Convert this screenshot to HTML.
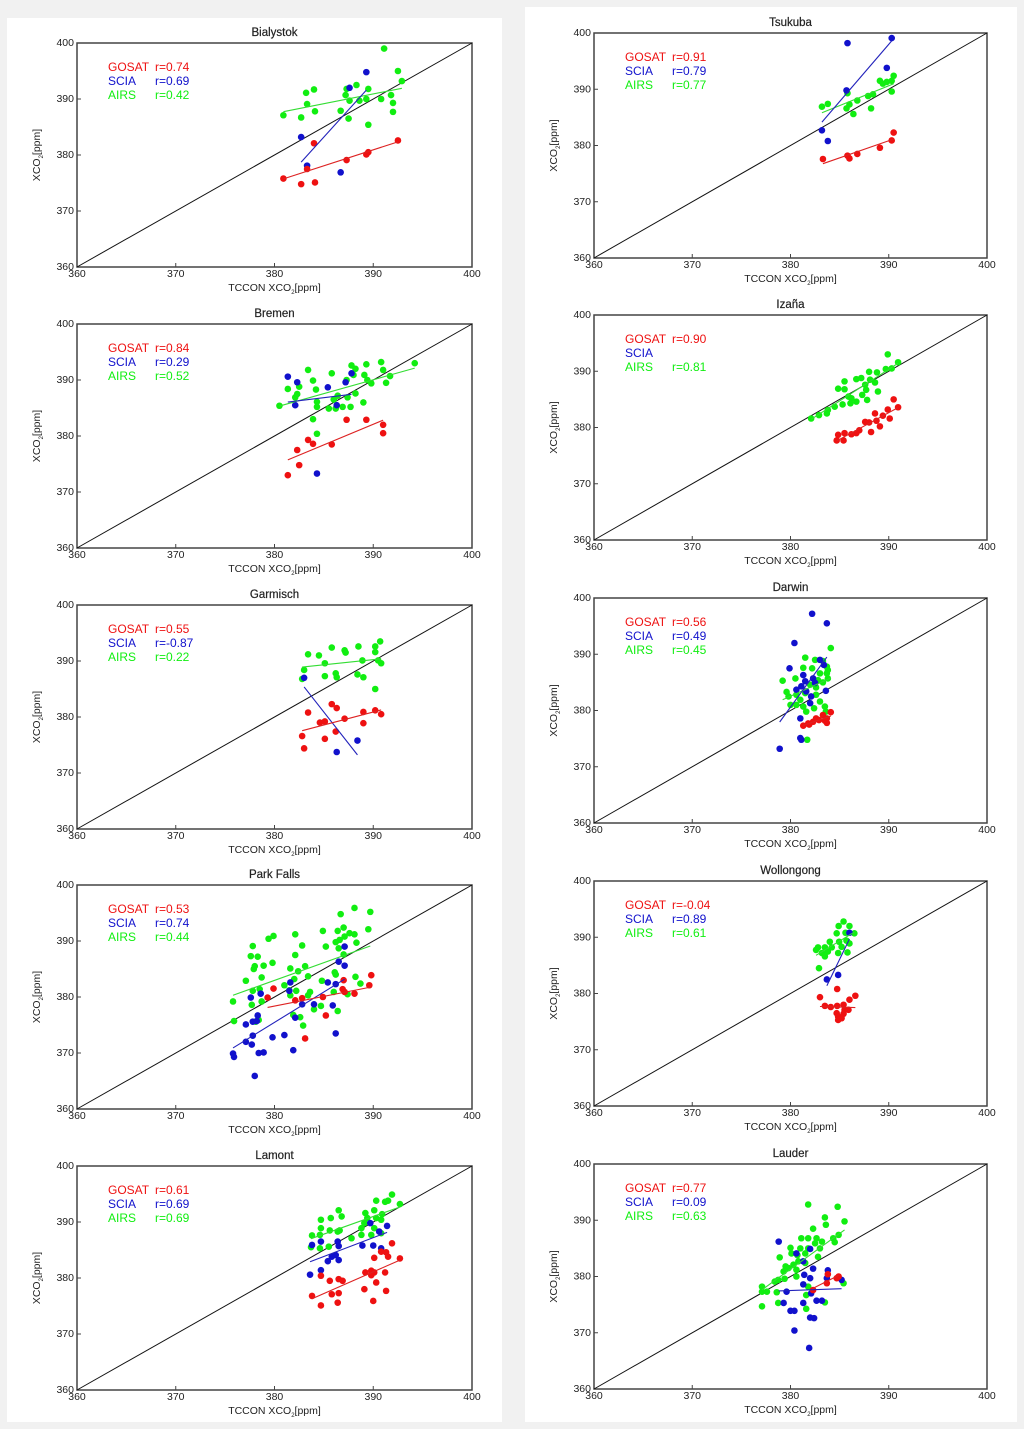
<!DOCTYPE html>
<html><head><meta charset="utf-8"><style>
html,body{margin:0;padding:0;background:#f1f1f1;}
#wrap{position:relative;width:1024px;height:1429px;overflow:hidden;}
svg{position:absolute;left:0;top:0;}
text{font-family:"Liberation Sans",sans-serif;}
</style></head><body>
<div id="wrap">
<svg id="fig" width="1024" height="1429" viewBox="0 0 1024 1429">
<rect x="7" y="18" width="495" height="1404" fill="#ffffff"/>
<rect x="525" y="7" width="492" height="1415" fill="#ffffff"/>
</svg>
</div>
<script>
const xTicks = [360, 370, 380, 390, 400];
const yTicks = [360, 370, 380, 390, 400];
const seriesNames = ["GOSAT", "SCIA", "AIRS"];

const bialystokGosat = [[380.9,375.8],[382.7,374.8],[384.1,375.1],[383.3,377.5],[384.0,382.1],[387.3,379.1],[389.3,380.1],[389.5,380.5],[392.5,382.6]];
const bialystokScia = [[382.7,383.2],[383.3,378.1],[386.7,376.9],[387.6,392.0],[389.3,394.8]];
const bialystokAirs = [[380.9,387.1],[383.2,391.1],[384.0,391.7],[383.3,389.1],[382.7,386.7],[384.1,387.8],[387.3,391.8],[387.2,390.7],[387.6,389.7],[387.5,386.5],[386.7,387.9],[388.3,392.5],[388.6,389.7],[389.5,391.8],[389.3,390.0],[389.5,385.4],[390.8,390.0],[391.1,399.0],[391.8,390.7],[392.0,389.3],[392.0,387.7],[392.5,395.0],[392.9,393.2]];
const bialystokR = ["0.74","0.69","0.42"];

const bremenGosat = [[381.35,373.0],[382.5,374.8],[382.3,377.5],[383.4,379.3],[383.9,378.6],[385.8,378.5],[387.3,382.9],[389.3,382.9],[391.0,382.0],[391.0,380.5]];
const bremenScia = [[381.35,390.6],[382.3,389.6],[382.1,385.5],[385.4,388.7],[386.3,385.5],[387.8,391.2],[384.3,373.3],[387.2,389.6]];
const bremenAirs = [[380.5,385.4],[381.35,388.4],[382.1,386.9],[382.3,387.5],[382.5,388.8],[383.4,391.8],[383.9,389.9],[384.2,388.3],[384.3,386.1],[384.3,385.2],[383.9,383.0],[384.3,380.4],[385.5,384.9],[385.8,391.2],[386.0,386.5],[386.2,384.9],[386.4,387.2],[386.9,385.2],[387.3,390.0],[387.4,386.9],[387.7,385.2],[387.8,392.6],[388.0,390.9],[388.2,392.0],[388.2,387.6],[389.0,386.0],[389.1,390.9],[389.3,392.8],[389.4,390.0],[389.8,389.4],[390.8,393.2],[391.0,391.8],[391.3,389.5],[391.7,390.7],[394.2,393.0]];
const bremenR = ["0.84","0.29","0.52"];

const garmischGosat = [[383.4,380.8],[385.8,382.3],[386.3,381.6],[389.0,380.9],[390.2,381.2],[390.8,380.5],[384.6,379.0],[385.1,379.2],[387.1,379.7],[389.0,378.9],[386.2,377.4],[382.8,376.6],[385.1,376.1],[383.0,374.4]];
const garmischScia = [[383.0,387.0],[386.3,373.75],[388.4,375.8]];
const garmischAirs = [[383.4,391.2],[384.5,391.0],[385.8,392.4],[387.1,391.9],[387.2,391.5],[388.5,392.6],[390.2,392.6],[390.7,393.5],[390.2,391.6],[383.0,388.4],[382.8,386.8],[385.1,389.6],[385.1,387.3],[386.2,387.8],[386.3,387.1],[388.4,387.6],[389.0,387.1],[388.9,390.1],[390.5,390.1],[390.8,389.6],[390.2,385.0]];
const garmischR = ["0.55","-0.87","0.22"];

const parkFallsGosat = [[379.9,381.5],[379.3,379.9],[382.1,379.4],[382.8,379.8],[384.9,380.0],[387.0,383.0],[386.9,381.4],[387.1,380.9],[388.1,380.6],[389.8,383.9],[389.6,382.1],[385.2,376.7],[383.1,372.6]];
const parkFallsScia = [[387.1,389.0],[386.5,386.3],[387.1,385.6],[385.4,382.6],[386.2,382.3],[381.6,382.6],[381.5,381.1],[378.6,380.6],[377.6,379.9],[382.1,376.3],[382.8,378.7],[384.0,378.7],[385.9,378.5],[378.3,376.7],[378.2,375.7],[377.1,375.1],[377.8,375.6],[377.8,373.1],[377.1,372.0],[377.7,371.5],[379.8,372.8],[381.0,373.2],[381.9,370.5],[378.4,370.0],[378.9,370.1],[375.8,369.9],[375.9,369.3],[378.0,365.9],[386.2,373.5]];
const parkFallsAirs = [[388.1,395.9],[389.7,395.2],[386.7,394.8],[379.9,390.9],[379.4,390.4],[382.1,391.2],[382.8,389.2],[377.8,389.1],[377.6,387.3],[378.3,387.2],[384.9,391.8],[386.4,391.8],[387.0,392.4],[387.6,391.4],[388.1,391.2],[389.5,392.1],[386.6,390.2],[386.2,389.8],[387.1,390.8],[388.3,389.7],[385.2,389.0],[386.5,388.7],[387.0,387.6],[378.9,385.6],[379.8,386.1],[377.9,385.0],[378.0,385.5],[381.6,385.1],[382.4,384.6],[383.1,385.5],[382.1,387.5],[378.7,383.5],[377.1,382.9],[377.8,381.1],[378.5,381.4],[381.0,382.1],[382.0,383.2],[383.4,383.7],[384.8,382.9],[386.1,384.4],[386.2,384.0],[388.2,383.6],[388.7,382.4],[387.4,380.5],[386.0,380.9],[381.6,380.3],[381.5,381.2],[382.2,381.1],[383.6,380.9],[383.4,380.3],[384.0,377.8],[384.7,378.4],[386.4,377.5],[381.9,376.8],[382.6,376.4],[382.9,374.9],[375.8,379.2],[375.9,375.7],[377.7,378.6],[378.7,379.2],[378.1,375.6],[378.4,375.9]];
const parkFallsR = ["0.53","0.74","0.44"];

const lamontGosat = [[391.9,386.2],[390.1,383.6],[390.8,384.7],[391.3,384.6],[391.5,383.8],[392.7,383.5],[389.2,381.0],[389.8,381.3],[390.1,381.0],[389.8,380.5],[391.2,381.0],[390.3,379.2],[389.1,378.0],[391.3,377.7],[390.0,375.9],[386.5,379.8],[385.6,379.5],[384.7,380.4],[386.9,379.5],[383.8,376.8],[385.8,377.1],[386.5,377.3],[386.4,375.6],[384.7,375.1]];
const lamontScia = [[383.8,385.9],[384.7,386.5],[386.4,386.5],[386.5,385.7],[385.8,383.8],[386.2,384.1],[386.5,383.2],[385.4,383.0],[383.6,380.6],[384.7,381.4],[388.9,385.8],[390.0,385.8],[390.8,385.3],[389.7,389.8],[390.6,388.3],[391.4,389.3]];
const lamontAirs = [[391.9,394.9],[391.2,393.6],[391.5,393.8],[390.3,393.8],[390.1,392.1],[389.2,391.6],[389.4,390.7],[390.3,390.7],[389.1,389.8],[390.9,391.4],[390.8,390.4],[392.7,393.2],[386.5,392.1],[386.8,391.0],[385.7,390.7],[384.7,390.4],[384.7,388.9],[385.6,388.5],[386.4,388.3],[383.8,387.6],[384.6,387.7],[383.7,385.5],[384.6,385.3],[385.5,385.6],[386.6,388.5],[387.8,387.1],[388.8,387.7],[389.8,387.7],[390.8,388.0],[390.1,388.9],[388.8,388.9]];
const lamontR = ["0.61","0.69","0.69"];

const tsukubaGosat = [[383.3,377.6],[385.8,378.2],[386.0,377.7],[386.8,378.5],[389.1,379.6],[390.3,380.9],[390.5,382.3]];
const tsukubaScia = [[383.2,382.7],[383.8,380.8],[385.7,389.8],[385.8,398.2],[389.8,393.8],[390.3,399.1]];
const tsukubaAirs = [[383.2,386.9],[383.8,387.4],[385.7,386.6],[385.8,389.3],[386.0,387.3],[386.4,385.6],[386.8,388.0],[387.9,388.8],[388.2,386.6],[388.4,389.1],[389.1,391.5],[389.4,391.0],[389.8,391.3],[390.3,391.5],[390.5,392.4],[390.3,389.6]];
const tsukubaR = ["0.91","0.79","0.77"];

const izanaGosat = [[390.5,385.0],[390.95,383.6],[389.9,383.2],[390.1,381.6],[389.4,382.1],[388.6,382.5],[388.75,381.2],[388.0,380.9],[387.6,381.0],[389.1,380.2],[388.2,379.2],[387.0,379.5],[386.7,379.0],[386.2,378.8],[385.5,379.0],[384.85,378.7],[384.7,377.7],[385.4,377.7]];
const izanaScia = [];
const izanaAirs = [[389.9,393.0],[390.95,391.6],[390.3,390.5],[389.7,390.4],[388.0,389.9],[388.8,389.8],[387.2,388.8],[386.7,388.6],[388.1,388.5],[388.6,388.0],[387.6,387.6],[385.5,388.2],[384.85,386.9],[385.5,386.8],[387.7,386.7],[388.9,386.4],[387.3,385.8],[386.2,385.2],[386.7,384.6],[386.1,384.3],[385.3,384.1],[384.5,383.7],[383.8,383.1],[383.7,382.5],[382.1,381.6],[382.9,382.2],[387.8,384.9],[385.9,385.5]];
const izanaR = ["0.90","","0.81"];

const darwinGosat = [[384.1,379.7],[383.3,379.2],[383.7,378.6],[382.9,378.3],[382.3,378.0],[381.8,377.7],[381.3,377.3],[381.9,377.5],[383.7,377.8],[382.6,378.6],[383.5,378.2]];
const darwinScia = [[382.2,397.2],[383.7,395.5],[380.4,392.0],[379.9,387.5],[383.0,389.0],[383.4,388.1],[381.3,386.3],[382.3,385.7],[380.6,383.7],[381.1,384.3],[381.6,383.4],[382.1,382.5],[383.6,383.5],[382.0,381.3],[381.0,378.6],[381.0,375.1],[381.1,374.8],[378.9,373.2],[381.5,385.2],[382.5,384.9]];
const darwinAirs = [[384.1,391.1],[381.5,389.4],[382.5,389.0],[383.3,388.8],[383.7,387.8],[382.2,387.5],[381.3,387.6],[380.5,385.7],[379.2,385.3],[379.6,383.3],[379.8,382.5],[380.6,382.8],[381.5,383.1],[382.6,384.1],[383.3,385.0],[383.7,386.6],[383.8,387.2],[383.0,386.6],[382.8,385.4],[382.0,384.6],[381.0,381.9],[381.3,380.7],[380.6,381.0],[383.0,381.6],[383.5,380.7],[383.6,379.8],[381.6,379.8],[382.4,380.4],[381.7,374.8],[380.0,381.0],[382.6,382.8],[383.8,385.7]];
const darwinR = ["0.56","0.49","0.45"];

const wollongongGosat = [[384.75,380.8],[383.0,379.35],[386.6,379.6],[386.0,378.9],[383.5,377.8],[384.1,377.6],[384.75,377.8],[385.4,378.0],[385.5,377.1],[385.9,377.1],[384.7,376.5],[384.85,375.9],[385.2,375.6],[384.85,375.3],[385.4,376.4]];
const wollongongScia = [[386.0,390.8],[384.85,383.3],[383.7,382.5]];
const wollongongAirs = [[385.4,392.8],[386.0,392.0],[384.9,392.0],[385.6,390.8],[384.7,390.7],[386.5,390.7],[384.95,389.2],[384.0,389.2],[385.7,389.4],[386.0,388.9],[385.2,388.3],[384.2,388.2],[383.5,388.2],[382.8,388.2],[382.6,387.75],[383.2,387.2],[383.8,387.45],[384.85,387.2],[385.8,387.3],[383.5,386.6],[382.9,384.5]];
const wollongongR = ["-0.04","0.89","0.61"];

const lauderGosat = [[383.8,380.4],[384.7,379.7],[383.7,378.8],[382.3,377.6],[384.9,380.0]];
const lauderScia = [[378.8,386.2],[380.6,384.1],[382.0,384.9],[381.3,382.7],[382.3,381.4],[381.4,380.3],[382.0,379.7],[383.8,381.1],[381.3,378.6],[379.6,377.3],[382.1,377.0],[379.3,375.3],[381.3,375.3],[382.65,375.7],[383.2,375.7],[380.0,373.9],[380.4,373.9],[382.0,372.7],[382.4,372.6],[380.4,370.4],[381.9,367.3],[383.7,379.7],[385.2,379.4]];
const lauderAirs = [[381.8,392.8],[384.8,392.4],[383.5,390.5],[385.5,389.8],[383.6,389.2],[384.9,387.4],[382.3,388.5],[384.35,386.8],[381.8,386.8],[382.65,386.8],[381.1,386.8],[382.5,385.9],[383.2,386.2],[384.5,386.1],[380.0,385.1],[381.0,385.0],[381.8,385.0],[383.0,385.0],[381.5,384.1],[380.7,383.8],[380.1,384.1],[382.8,383.5],[378.9,383.4],[380.8,382.7],[381.5,382.4],[379.5,381.8],[380.3,382.1],[379.8,381.5],[380.6,381.2],[379.3,380.9],[378.75,379.4],[379.4,379.6],[378.4,379.1],[377.1,378.2],[377.1,377.3],[378.6,377.2],[377.6,377.3],[381.8,378.2],[381.6,376.7],[378.75,375.3],[383.5,375.4],[377.1,374.7],[381.6,374.25],[385.4,378.8],[380.6,380.0]];
const lauderR = ["0.77","0.09","0.63"];

const NS = "http://www.w3.org/2000/svg";
const svg = document.getElementById("fig");
const colors = ["#ee1111", "#1111cc", "#11ee11"];
const lineColors = ["#dd2222", "#2222bb", "#33dd33"];

function mk(tag, attrs, parent) {
  const e = document.createElementNS(NS, tag);
  for (const k in attrs) e.setAttribute(k, attrs[k]);
  (parent || svg).appendChild(e);
  return e;
}

const panels = [
  {title:"Bialystok", col:0, top:43, series:[bialystokGosat,bialystokScia,bialystokAirs], r:bialystokR},
  {title:"Bremen", col:0, top:324, series:[bremenGosat,bremenScia,bremenAirs], r:bremenR},
  {title:"Garmisch", col:0, top:605, series:[garmischGosat,garmischScia,garmischAirs], r:garmischR},
  {title:"Park Falls", col:0, top:885, series:[parkFallsGosat,parkFallsScia,parkFallsAirs], r:parkFallsR},
  {title:"Lamont", col:0, top:1166, series:[lamontGosat,lamontScia,lamontAirs], r:lamontR},
  {title:"Tsukuba", col:1, top:33, series:[tsukubaGosat,tsukubaScia,tsukubaAirs], r:tsukubaR},
  {title:"Izaña", col:1, top:315, series:[izanaGosat,izanaScia,izanaAirs], r:izanaR},
  {title:"Darwin", col:1, top:598, series:[darwinGosat,darwinScia,darwinAirs], r:darwinR},
  {title:"Wollongong", col:1, top:881, series:[wollongongGosat,wollongongScia,wollongongAirs], r:wollongongR},
  {title:"Lauder", col:1, top:1164, series:[lauderGosat,lauderScia,lauderAirs], r:lauderR}
];

function fit(pts) {
  const n = pts.length;
  let sx=0, sy=0, sxx=0, sxy=0, mn=Infinity, mx=-Infinity;
  pts.forEach(p => { sx+=p[0]; sy+=p[1]; sxx+=p[0]*p[0]; sxy+=p[0]*p[1]; mn=Math.min(mn,p[0]); mx=Math.max(mx,p[0]); });
  const b = (n*sxy - sx*sy) / (n*sxx - sx*sx);
  const a = (sy - b*sx) / n;
  return {a, b, mn, mx};
}

panels.forEach(p => {
  const L = p.col === 0 ? 77 : 594;
  const W = p.col === 0 ? 395 : 393;
  const H = p.col === 0 ? 224 : 225;
  const T = p.top;
  const slug = p.title.toLowerCase().replace(/[^a-z]+/g, "-").replace("a-a", "ana");
  const xs = v => L + (v - 360) / 40 * W;
  const ys = v => T + H - (v - 360) / 40 * H;
  const g = mk("g", {});
  
  

  const title = mk("text", {x: L + W/2, y: T - 7, "text-anchor": "middle", "font-size": "11.5", fill: "#222", stroke: "#222", "stroke-width": "0.2"}, g);
  title.textContent = p.title;
  
  

  const frame = mk("rect", {x: L, y: T, width: W, height: H, fill: "none", stroke: "#444", "stroke-width": "1.5"}, g);
  
  

  xTicks.forEach(t => {
    const tk = mk("line", {x1: xs(t), x2: xs(t), y1: T+H, y2: T+H-4, stroke: "#444", "stroke-width": "1"}, g);
    
    
    const lb = mk("text", {x: xs(t), y: T+H+10, "text-anchor": "middle", "font-size": "10.5", fill: "#222"}, g);
    lb.textContent = t;
    
    
  });
  yTicks.forEach(t => {
    const tk = mk("line", {x1: L, x2: L+4, y1: ys(t), y2: ys(t), stroke: "#444", "stroke-width": "1"}, g);
    
    
    const lb = mk("text", {x: L-3, y: ys(t)+3, "text-anchor": "end", "font-size": "10.5", fill: "#222"}, g);
    lb.textContent = t;
    
    
  });

  const xt = mk("text", {x: L + W/2, y: T+H+24, "text-anchor": "middle", "font-size": "10.5", fill: "#222"}, g);
  xt.innerHTML = 'TCCON XCO<tspan font-size="6" dy="3">2</tspan><tspan dy="-3">[ppm]</tspan>';
  
  
  const yx = L - 37, yy = T + H/2;
  const yt = mk("text", {x: yx, y: yy, "text-anchor": "middle", "font-size": "10.5", fill: "#222", transform: "rotate(-90 " + yx + " " + yy + ")"}, g);
  yt.innerHTML = 'XCO<tspan font-size="6" dy="3">2</tspan><tspan dy="-3">[ppm]</tspan>';
  
  

  const diag = mk("line", {x1: xs(360), y1: ys(360), x2: xs(400), y2: ys(400), stroke: "#111", "stroke-width": "1"}, g);
  
  

  [2, 1, 0].forEach(si => {
    p.series[si].forEach(pt => {
      const c = mk("circle", {cx: xs(pt[0]), cy: ys(pt[1]), r: 3.3, fill: colors[si]}, g);
      
      
    });
  });
  [2, 1, 0].forEach(si => {
    const pts = p.series[si];
    if (pts.length < 2) return;
    const f = fit(pts);
    const ln = mk("line", {x1: xs(f.mn), y1: ys(f.a + f.b*f.mn), x2: xs(f.mx), y2: ys(f.a + f.b*f.mx), stroke: lineColors[si], "stroke-width": "1.1"}, g);
    
    
  });

  const lx = L + 31, rx = L + 78;
  seriesNames.forEach((nm, si) => {
    const yv = T + 28 + si*14;
    const t1 = mk("text", {x: lx, y: yv, "font-size": "12", fill: colors[si]}, g);
    t1.textContent = nm;
    
    
    if (p.r[si] !== "") {
      const t2 = mk("text", {x: rx, y: yv, "font-size": "12", fill: colors[si]}, g);
      t2.textContent = "r=" + p.r[si];
      
      
    }
  });
});
</script>
</body></html>
